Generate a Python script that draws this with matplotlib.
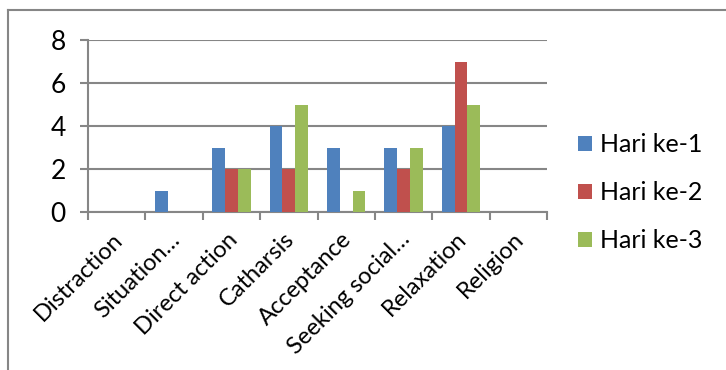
import numpy as np
import matplotlib
matplotlib.use("Agg")
import matplotlib.pyplot as plt
import matplotlib.transforms as mtransforms
from matplotlib.lines import Line2D

categories = ['Distraction', 'Situation…', 'Direct action', 'Catharsis',
              'Acceptance', 'Seeking social…', 'Relaxation', 'Religion']
hari1 = [0, 1, 3, 4, 3, 3, 4, 0]
hari2 = [0, 0, 2, 2, 0, 2, 7, 0]
hari3 = [0, 0, 2, 5, 1, 3, 5, 0]
series = [('Hari ke-1', hari1), ('Hari ke-2', hari2), ('Hari ke-3', hari3)]
colors = ['#4f81bd', '#c0504d', '#9bbb59']

plt.rcParams['font.family'] = ['Lato', 'DejaVu Sans']
grey = '#868686'

fig = plt.figure(figsize=(7.26, 3.70), dpi=100)
ax = fig.add_axes([88/726, 1-212/370, 459/726, 172/370])

ind = np.arange(len(categories))
width = 1/4.5  # Excel gap width 150%
for i, (name, vals) in enumerate(series):
    ax.bar(ind + (i-1)*width, vals, width, color=colors[i], label=name, zorder=3)

ax.set_xlim(-0.5, len(categories)-0.5)
ax.set_ylim(0, 8)
ax.set_yticks([0, 2, 4, 6, 8])
ax.yaxis.grid(True, color=grey, linewidth=1.5, zorder=0)

ax.set_xticks(np.arange(len(categories)+1) - 0.5)
ax.set_xticklabels([])
ax.set_xticks(ind, minor=True)
ax.set_xticklabels(categories, minor=True, rotation=45, ha='right',
                   rotation_mode='anchor', fontsize=17)
ax.tick_params(axis='x', which='minor', length=0, pad=12)
ax.tick_params(axis='x', which='major', length=6, width=1.5, color=grey)
ax.tick_params(axis='y', length=6, width=1.5, color=grey, labelsize=19, pad=10)

shift = mtransforms.ScaledTranslation(-5/100, 0, fig.dpi_scale_trans)
for lab in ax.get_xticklabels(minor=True):
    lab.set_transform(lab.get_transform() + shift)

for s in ['top', 'right']:
    ax.spines[s].set_visible(False)
for s in ['left', 'bottom']:
    ax.spines[s].set_color(grey)
    ax.spines[s].set_linewidth(1.5)

ax.legend(loc='center left', bbox_to_anchor=(578/726, 1-193/370), bbox_transform=fig.transFigure,
          frameon=False, fontsize=18, handlelength=0.55, handleheight=0.55,
          handletextpad=0.35, labelspacing=1.0, borderaxespad=0, borderpad=0)

# outer chart frame (partially cropped)
fig.add_artist(Line2D([8/726, 8/726], [0, 1-10/370], color=grey, linewidth=1.5))
fig.add_artist(Line2D([8/726, 1], [1-10/370, 1-10/370], color=grey, linewidth=1.5))

fig.savefig('out.png', dpi=100)
